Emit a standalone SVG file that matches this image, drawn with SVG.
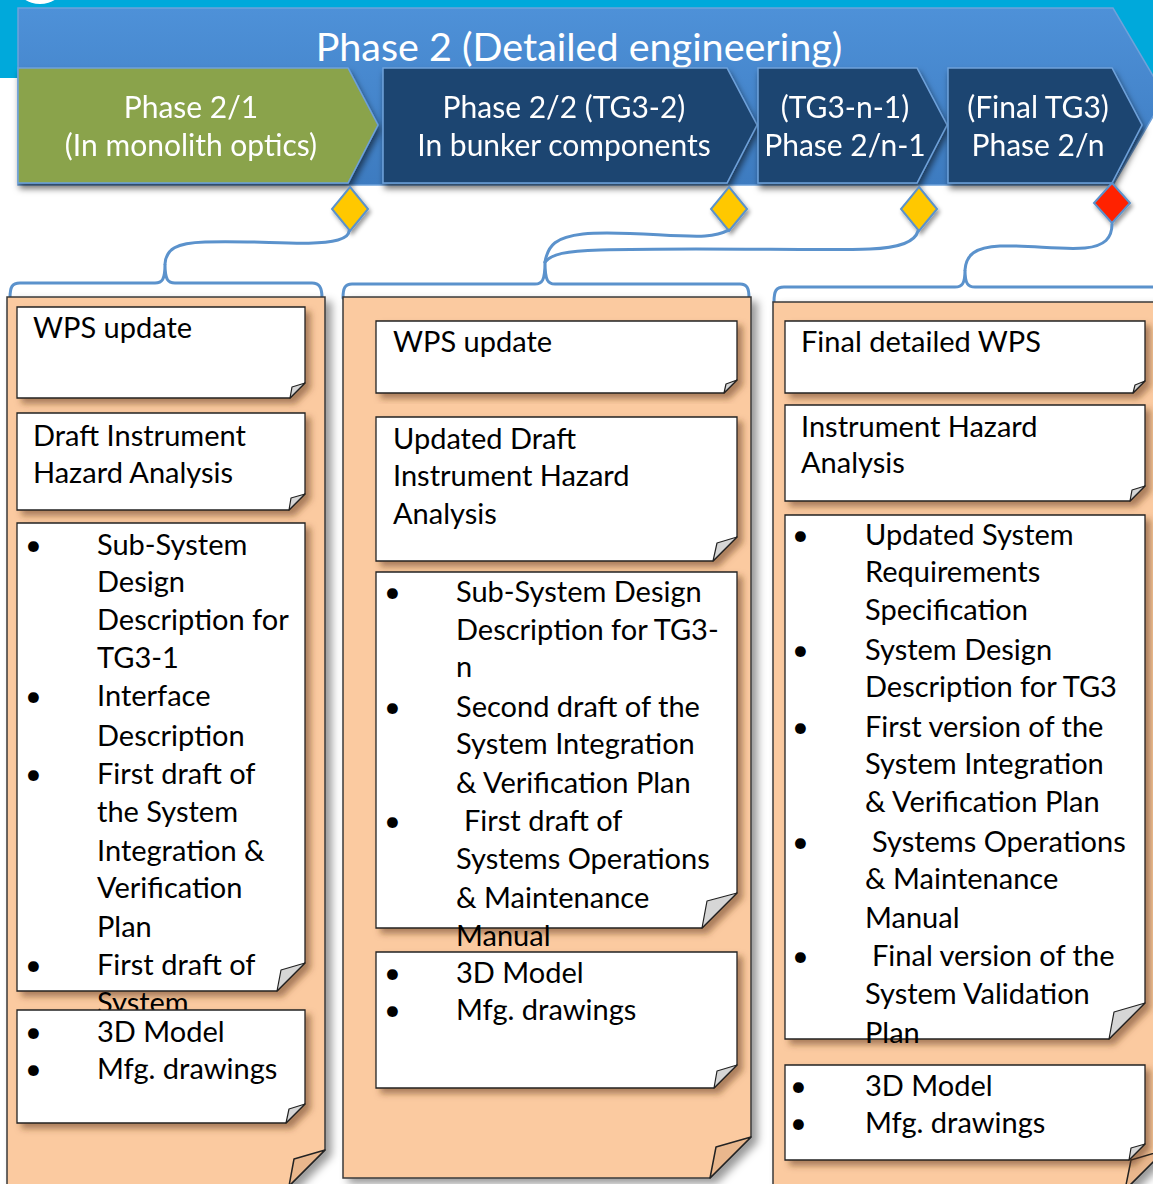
<svg xmlns="http://www.w3.org/2000/svg" width="1153" height="1184" viewBox="0 0 1153 1184">
<defs>
<style>
.arrowtxt{font-family:Lato,"Liberation Sans",sans-serif;font-size:30px;fill:#fff;text-anchor:middle}
.title{font-family:Lato,"Liberation Sans",sans-serif;font-size:39.5px;fill:#fff;text-anchor:middle}
.t{font-family:Lato,"Liberation Sans",sans-serif;font-size:29px;fill:#000}
.panel{fill:#FBCAA0;stroke:#3a3a3a;stroke-width:1.5}
.pflap{fill:#E9B78D;stroke:#222;stroke-width:1.5;stroke-linejoin:round}
.note{fill:#fff;stroke:#222;stroke-width:1.3}
.nflap{fill:#D6D6D6;stroke:#222;stroke-width:1.2;stroke-linejoin:round}
.brace{fill:none;stroke:#5B92CC;stroke-width:3;stroke-linecap:round}
.dia{stroke:#5B92CC;stroke-width:2}
.chev{stroke:#6FA2DA;stroke-width:1.5}
</style>
<linearGradient id="bigg" x1="0" y1="0" x2="0" y2="1">
<stop offset="0" stop-color="#4E91D8"/>
<stop offset="1" stop-color="#3D7BC0"/>
</linearGradient>
<filter id="shA" x="-5%" y="-10%" width="115%" height="130%">
<feDropShadow dx="2" dy="5" stdDeviation="3" flood-color="#000" flood-opacity="0.55"/>
</filter>
<filter id="shN" x="-5%" y="-5%" width="115%" height="120%">
<feDropShadow dx="5" dy="5" stdDeviation="3" flood-color="#5a3010" flood-opacity="0.5"/>
</filter>
<filter id="shP" x="-5%" y="-5%" width="115%" height="115%">
<feDropShadow dx="6" dy="5" stdDeviation="4" flood-color="#000" flood-opacity="0.4"/>
</filter>
<filter id="shD" x="-30%" y="-30%" width="170%" height="170%">
<feDropShadow dx="2" dy="3" stdDeviation="2" flood-color="#000" flood-opacity="0.4"/>
</filter>
</defs>
<rect width="1153" height="1184" fill="#fff"/>
<g id="header">
<rect x="0" y="0" width="1153" height="78" fill="#00A9DB"/>
<rect x="1100" y="70" width="53" height="47" fill="#00A9DB"/>
<ellipse cx="40" cy="-12" rx="22" ry="16" fill="#fff"/>
</g>
<g id="phase2">
<polygon points="18,8 1113,8 1165,96 1113,185 18,185" fill="url(#bigg)" stroke="#6FA2DA" stroke-width="1.5"/>
<text class="title" x="579" y="61">Phase 2 (Detailed engineering)</text>
</g>
<g id="phase2-1" filter="url(#shA)">
<polygon class="chev" points="18,68 348,68 378,125 348,183 18,183" fill="#8AA34C"/>
<text class="arrowtxt" x="191" y="118">Phase 2/1</text>
<text class="arrowtxt" x="191" y="156">(In monolith optics)</text>
</g>
<g id="phase2-2" filter="url(#shA)">
<polygon class="chev" points="383,68 727,68 757,125 727,183 383,183" fill="#1F4571"/>
<text class="arrowtxt" x="564" y="118">Phase 2/2 (TG3-2)</text>
<text class="arrowtxt" x="564" y="156">In bunker components</text>
</g>
<g id="phase2-n-1" filter="url(#shA)">
<polygon class="chev" points="758,68 917,68 947,125 917,183 758,183" fill="#1F4571"/>
<text class="arrowtxt" x="845" y="118">(TG3-n-1)</text>
<text class="arrowtxt" x="845" y="156">Phase 2/n-1</text>
</g>
<g id="phase2-n" filter="url(#shA)">
<polygon class="chev" points="948,68 1112,68 1142,125 1112,183 948,183" fill="#1F4571"/>
<text class="arrowtxt" x="1038" y="118">(Final TG3)</text>
<text class="arrowtxt" x="1038" y="156">Phase 2/n</text>
</g>
<g id="milestones" filter="url(#shD)">
<polygon id="m1" class="dia" points="350,187 368,209 350,231 332,209" fill="#FFC800"/>
<polygon id="m2" class="dia" points="729,187 747,209 729,231 711,209" fill="#FFC800"/>
<polygon id="m3" class="dia" points="919,187 937,209 919,231 901,209" fill="#FFC800"/>
<polygon id="m4" class="dia" points="1112,183 1130,203 1112,223 1094,203" fill="#FF2200"/>
</g>
<g id="connectors">
<path class="brace" d="M10,298 C10,287 12,283 20,283 L155,283 C162,283 165,280 165,264 C165,280 168,283 175,283 L312,283 C319,283 322,287 322,298"/>
<path class="brace" d="M165,264 C166,249 176,243 205,242 C260,240 312,247 338,240 C345,238 349,235 349,231"/>
<path class="brace" d="M343,298 C343,288 345,284 352,284 L535,284 C542,284 545,281 545,262 C545,281 548,284 555,284 L740,284 C747,284 749,288 749,298"/>
<path class="brace" d="M545,262 C548,245 556,237 583,234 C620,230 680,238 705,236 C720,235 727,231 729,230"/>
<path class="brace" d="M545,262 C552,254 565,251 600,250 C700,247 820,251 870,249 C900,248 915,242 918,231"/>
<path class="brace" d="M774,302 C774,291 776,287 784,287 L955,287 C962,287 965,284 965,270 C965,284 968,287 975,287 L1160,287"/>
<path class="brace" d="M965,270 C966,255 975,247 1000,246 C1030,245 1060,250 1085,248 C1105,246 1112,238 1112,224"/>
</g>
<g id="panel1">
<path class="panel" filter="url(#shP)" d="M7,297 H325 V1150 L289,1186 H7 Z"/>
<polygon class="pflap" points="325,1150 294,1159 289,1186"/>
<g id="n1-1" filter="url(#shN)">
<path class="note" d="M17,307 H305 V383 L290,398 H17 Z"/>
<polygon class="nflap" points="305,383 292,387 290,398"/>
</g>
<text class="t" x="33" y="338">WPS update</text>
<g id="n1-2" filter="url(#shN)">
<path class="note" d="M17,413 H305 V494 L289,510 H17 Z"/>
<polygon class="nflap" points="305,494 291,498 289,510"/>
</g>
<text class="t" x="33" y="446">Draft Instrument<tspan x="33" y="483">Hazard Analysis</tspan></text>
<g id="n1-3" filter="url(#shN)">
<path class="note" d="M17,523 H305 V963 L277,991 H17 Z"/>
<polygon class="nflap" points="305,963 281,970 277,991"/>
</g>
<text class="t"><tspan x="25" y="555">•</tspan><tspan x="97" y="555">Sub-System</tspan><tspan x="97" y="592">Design</tspan><tspan x="97" y="630">Description for</tspan><tspan x="97" y="668">TG3-1</tspan><tspan x="25" y="706">•</tspan><tspan x="97" y="706">Interface</tspan><tspan x="97" y="746">Description</tspan><tspan x="25" y="784">•</tspan><tspan x="97" y="784">First draft of</tspan><tspan x="97" y="822">the System</tspan><tspan x="97" y="861">Integration &amp;</tspan><tspan x="97" y="898">Verification</tspan><tspan x="97" y="937">Plan</tspan><tspan x="25" y="975">•</tspan><tspan x="97" y="975">First draft of</tspan><tspan x="97" y="1013">System</tspan></text>
<g id="n1-4" filter="url(#shN)">
<path class="note" d="M17,1010 H305 V1104 L286,1123 H17 Z"/>
<polygon class="nflap" points="305,1104 289,1109 286,1123"/>
</g>
<text class="t"><tspan x="25" y="1042">•</tspan><tspan x="97" y="1042">3D Model</tspan><tspan x="25" y="1079">•</tspan><tspan x="97" y="1079">Mfg. drawings</tspan></text>
</g>
<g id="panel2">
<path class="panel" filter="url(#shP)" d="M343,297 H751 V1137 L710,1178 H343 Z"/>
<polygon class="pflap" points="751,1137 716,1147 710,1178"/>
<g id="n2-1" filter="url(#shN)">
<path class="note" d="M376,321 H737 V380 L724,393 H376 Z"/>
<polygon class="nflap" points="737,380 726,384 724,393"/>
</g>
<text class="t" x="393" y="352">WPS update</text>
<g id="n2-2" filter="url(#shN)">
<path class="note" d="M376,417 H737 V537 L713,561 H376 Z"/>
<polygon class="nflap" points="737,537 717,543 713,561"/>
</g>
<text class="t" x="393" y="449">Updated Draft<tspan x="393" y="486">Instrument Hazard</tspan><tspan x="393" y="524">Analysis</tspan></text>
<g id="n2-3" filter="url(#shN)">
<path class="note" d="M376,572 H737 V893 L702,928 H376 Z"/>
<polygon class="nflap" points="737,893 707,901 702,928"/>
</g>
<text class="t"><tspan x="384" y="602">•</tspan><tspan x="456" y="602">Sub-System Design</tspan><tspan x="456" y="640">Description for TG3-</tspan><tspan x="456" y="677">n</tspan><tspan x="384" y="717">•</tspan><tspan x="456" y="717">Second draft of the</tspan><tspan x="456" y="754">System Integration</tspan><tspan x="456" y="793">&amp; Verification Plan</tspan><tspan x="384" y="831">•</tspan><tspan x="464" y="831">First draft of</tspan><tspan x="456" y="869">Systems Operations</tspan><tspan x="456" y="908">&amp; Maintenance</tspan><tspan x="456" y="946">Manual</tspan></text>
<g id="n2-4" filter="url(#shN)">
<path class="note" d="M376,952 H737 V1065 L714,1088 H376 Z"/>
<polygon class="nflap" points="737,1065 717,1071 714,1088"/>
</g>
<text class="t"><tspan x="384" y="983">•</tspan><tspan x="456" y="983">3D Model</tspan><tspan x="384" y="1020">•</tspan><tspan x="456" y="1020">Mfg. drawings</tspan></text>
</g>
<g id="panel3">
<path class="panel" filter="url(#shP)" d="M773,302 H1165 V1150 L1125,1190 H773 Z"/>
<polygon class="pflap" points="1165,1150 1131,1160 1125,1190"/>
<g id="n3-1" filter="url(#shN)">
<path class="note" d="M785,321 H1145 V381 L1133,393 H785 Z"/>
<polygon class="nflap" points="1145,381 1135,385 1133,393"/>
</g>
<text class="t" x="801" y="352">Final detailed WPS</text>
<g id="n3-2" filter="url(#shN)">
<path class="note" d="M785,405 H1145 V486 L1130,501 H785 Z"/>
<polygon class="nflap" points="1145,486 1132,490 1130,501"/>
</g>
<text class="t" x="801" y="437">Instrument Hazard<tspan x="801" y="473">Analysis</tspan></text>
<g id="n3-3" filter="url(#shN)">
<path class="note" d="M785,515 H1145 V1003 L1109,1039 H785 Z"/>
<polygon class="nflap" points="1145,1003 1114,1012 1109,1039"/>
</g>
<text class="t"><tspan x="792" y="545">•</tspan><tspan x="865" y="545">Updated System</tspan><tspan x="865" y="582">Requirements</tspan><tspan x="865" y="620">Specification</tspan><tspan x="792" y="660">•</tspan><tspan x="865" y="660">System Design</tspan><tspan x="865" y="697">Description for TG3</tspan><tspan x="792" y="737">•</tspan><tspan x="865" y="737">First version of the</tspan><tspan x="865" y="774">System Integration</tspan><tspan x="865" y="812">&amp; Verification Plan</tspan><tspan x="792" y="852">•</tspan><tspan x="872" y="852">Systems Operations</tspan><tspan x="865" y="889">&amp; Maintenance</tspan><tspan x="865" y="928">Manual</tspan><tspan x="792" y="966">•</tspan><tspan x="872" y="966">Final version of the</tspan><tspan x="865" y="1004">System Validation</tspan><tspan x="865" y="1043">Plan</tspan></text>
<g id="n3-4" filter="url(#shN)">
<path class="note" d="M785,1065 H1145 V1144 L1129,1160 H785 Z"/>
<polygon class="nflap" points="1145,1144 1131,1148 1129,1160"/>
</g>
<text class="t"><tspan x="790" y="1096">•</tspan><tspan x="865" y="1096">3D Model</tspan><tspan x="790" y="1133">•</tspan><tspan x="865" y="1133">Mfg. drawings</tspan></text>
</g>
</svg>
